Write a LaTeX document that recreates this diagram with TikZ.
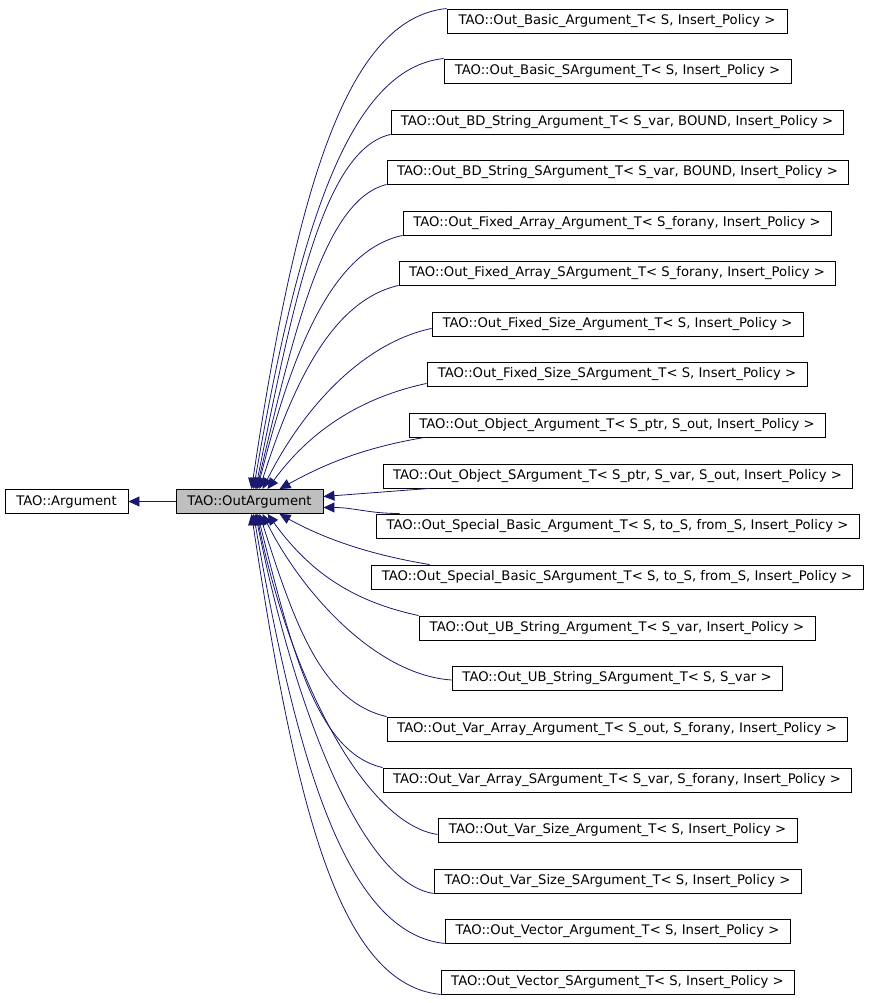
\documentclass[tikz,border=0pt]{standalone}
\usepackage{fontspec}
\setmainfont{DejaVu Sans}
\usetikzlibrary{arrows.meta}
\definecolor{edgeblue}{HTML}{191970}
\definecolor{boxgray}{HTML}{BFBFBF}
\tikzset{
	cls/.style={draw,rectangle,line width=0.9pt,minimum height=24pt,inner sep=0pt,font=\fontsize{13.2}{15}\selectfont},
	inh/.style={->,color=edgeblue,line width=0.8pt},
}
\begin{document}
\begin{tikzpicture}[>={Triangle[length=11pt,width=10pt]},x=1pt,y=1pt]
		\useasboundingbox (0,0) rectangle (869,1003);
		% base classes
		\node[cls,minimum width=123pt] (arg) at (66.5,501.5) {TAO::Argument};
		\node[cls,fill=boxgray,minimum width=147pt] (oa) at (249.5,501.5) {TAO::OutArgument};
		\draw[inh](oa)--(arg);
		% derived templates
		\node[cls,minimum width=340pt] (b1) at (617,982) {TAO::Out\_Basic\_Argument\_T< S, Insert\_Policy >};
		\node[cls,minimum width=347pt] (b2) at (617.5,932) {TAO::Out\_Basic\_SArgument\_T< S, Insert\_Policy >};
		\node[cls,minimum width=452pt] (b3) at (617,881) {TAO::Out\_BD\_String\_Argument\_T< S\_var, BOUND, Insert\_Policy >};
		\node[cls,minimum width=461pt] (b4) at (617.5,831) {TAO::Out\_BD\_String\_SArgument\_T< S\_var, BOUND, Insert\_Policy >};
		\node[cls,minimum width=428pt] (b5) at (617,780) {TAO::Out\_Fixed\_Array\_Argument\_T< S\_forany, Insert\_Policy >};
		\node[cls,minimum width=436pt] (b6) at (617,730) {TAO::Out\_Fixed\_Array\_SArgument\_T< S\_forany, Insert\_Policy >};
		\node[cls,minimum width=371pt] (b7) at (617.5,679) {TAO::Out\_Fixed\_Size\_Argument\_T< S, Insert\_Policy >};
		\node[cls,minimum width=380pt] (b8) at (617,629) {TAO::Out\_Fixed\_Size\_SArgument\_T< S, Insert\_Policy >};
		\node[cls,minimum width=416pt] (b9) at (617,578) {TAO::Out\_Object\_Argument\_T< S\_ptr, S\_out, Insert\_Policy >};
		\node[cls,minimum width=469pt] (b10) at (617.5,527) {TAO::Out\_Object\_SArgument\_T< S\_ptr, S\_var, S\_out, Insert\_Policy >};
		\node[cls,minimum width=483pt] (b11) at (617.5,477) {TAO::Out\_Special\_Basic\_Argument\_T< S, to\_S, from\_S, Insert\_Policy >};
		\node[cls,minimum width=492pt] (b12) at (617,426) {TAO::Out\_Special\_Basic\_SArgument\_T< S, to\_S, from\_S, Insert\_Policy >};
		\node[cls,minimum width=396pt] (b13) at (617,375) {TAO::Out\_UB\_String\_Argument\_T< S\_var, Insert\_Policy >};
		\node[cls,minimum width=330pt] (b14) at (617,325) {TAO::Out\_UB\_String\_SArgument\_T< S, S\_var >};
		\node[cls,minimum width=460pt] (b15) at (617,274) {TAO::Out\_Var\_Array\_Argument\_T< S\_out, S\_forany, Insert\_Policy >};
		\node[cls,minimum width=468pt] (b16) at (617,223) {TAO::Out\_Var\_Array\_SArgument\_T< S\_var, S\_forany, Insert\_Policy >};
		\node[cls,minimum width=359pt] (b17) at (617.5,173) {TAO::Out\_Var\_Size\_Argument\_T< S, Insert\_Policy >};
		\node[cls,minimum width=367pt] (b18) at (617.5,122) {TAO::Out\_Var\_Size\_SArgument\_T< S, Insert\_Policy >};
		\node[cls,minimum width=345pt] (b19) at (617.5,72) {TAO::Out\_Vector\_Argument\_T< S, Insert\_Policy >};
		\node[cls,minimum width=353pt] (b20) at (617.5,21) {TAO::Out\_Vector\_SArgument\_T< S, Insert\_Policy >};
		% edges above the base
		\draw[inh](b1.north west) .. controls +(-100,-10) and +(45,300) .. ([xshift=2]oa.north);
		\draw[inh](b2.north west) .. controls +(-95,-10) and +(45,260) .. ([xshift=4]oa.north);
		\draw[inh](b3.south west) .. controls +(-65,-15) and +(40,200) .. ([xshift=6]oa.north);
		\draw[inh](b4.south west) .. controls +(-60,-15) and +(40,170) .. ([xshift=7]oa.north);
		\draw[inh](b5.south west) .. controls +(-70,-15) and +(35,140) .. ([xshift=8]oa.north);
		\draw[inh](b6.south west) .. controls +(-65,-15) and +(35,110) .. ([xshift=10]oa.north);
		\draw[inh]([yshift=8]b7.south west) .. controls +(-70,-15) and +(40,80) .. ([xshift=13]oa.north);
		\draw[inh]([yshift=3]b8.south west) .. controls +(-70,-15) and +(40,55) .. ([xshift=18]oa.north);
		\draw[inh]([xshift=16]b9.south west) .. controls +(-60,-10) and +(45,25) .. ([xshift=30]oa.north);
		% edges beside the base
		\draw[inh]([xshift=47]b10.south west) .. controls +(-40,-3) and +(40,3) .. ([yshift=5]oa.east);
		\draw[inh]([xshift=24]b11.north west) .. controls +(-30,0) and +(30,0) .. ([yshift=-6]oa.east);
		% edges below the base
		\draw[inh]([xshift=59]b12.north west) .. controls +(-60,10) and +(45,-25) .. ([xshift=30]oa.south);
		\draw[inh](b13.north west) .. controls +(-70,15) and +(40,-55) .. ([xshift=18]oa.south);
		\draw[inh]([yshift=-2]b14.west) .. controls +(-75,5) and +(40,-80) .. ([xshift=13]oa.south);
		\draw[inh](b15.north west) .. controls +(-65,15) and +(35,-110) .. ([xshift=10]oa.south);
		\draw[inh](b16.north west) .. controls +(-65,15) and +(35,-140) .. ([xshift=8]oa.south);
		\draw[inh]([yshift=8]b17.south west) .. controls +(-70,10) and +(35,-170) .. ([xshift=7]oa.south);
		\draw[inh](b18.south west) .. controls +(-70,10) and +(40,-200) .. ([xshift=6]oa.south);
		\draw[inh](b19.south west) .. controls +(-95,10) and +(45,-260) .. ([xshift=4]oa.south);
		\draw[inh](b20.south west) .. controls +(-100,10) and +(45,-300) .. ([xshift=2]oa.south);
	\end{tikzpicture}
\end{document}
